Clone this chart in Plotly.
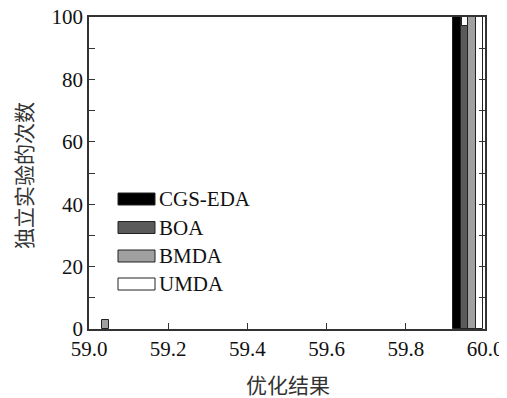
import plotly.graph_objects as go

# ---- data ----
algorithms = ["CGS-EDA", "BOA", "BMDA", "UMDA"]
colors = ["#000000", "#5a5a5a", "#a0a0a0", "#ffffff"]

cgs_x = [59.929]
cgs_y = [100]
boa_x = [59.949]
boa_y = [97]
bmda_x = [59.042, 59.967]
bmda_y = [3, 100]
umda_x = [59.985, 59.949]
umda_y = [100, 3]
umda_base = [0, 97]
umda_w = [0.018, 0.014]

x_ticks = [59.0, 59.2, 59.4, 59.6, 59.8, 60.0]
y_ticks = list(range(0, 101, 10))
y_ticktext = [str(v) if v % 20 == 0 else "" for v in y_ticks]

serif = "Liberation Serif, Times New Roman, serif"
cjk = "Noto Sans CJK SC"

fig = go.Figure()
line = dict(color="#222222", width=1)
fig.add_trace(go.Bar(x=cgs_x, y=cgs_y, width=0.02, marker=dict(color=colors[0], line=line), name=algorithms[0]))
fig.add_trace(go.Bar(x=boa_x, y=boa_y, width=0.02, marker=dict(color=colors[1], line=line), name=algorithms[1]))
fig.add_trace(go.Bar(x=bmda_x, y=bmda_y, width=0.018, marker=dict(color=colors[2], line=line), name=algorithms[2]))
fig.add_trace(go.Bar(x=umda_x, y=umda_y, base=umda_base, width=umda_w, marker=dict(color=colors[3], line=line), name=algorithms[3]))

# page offset (body margin) compensation
OFF = 8
W, H = 507 - OFF, 398 - OFF
# plot area in page pixels
PL, PR, PT, PB = 89, 485, 17, 329
L, T = PL - OFF, PT - OFF
R, B = W - (PR - OFF), H - (PB - OFF)
pw, ph = PR - PL, PB - PT


def px(xp):
    return (xp - PL) / pw


def py(yp):
    return (PB - yp) / ph


fig.update_layout(
    width=W, height=H,
    margin=dict(l=L, r=R, t=T, b=B, autoexpand=False),
    paper_bgcolor="white", plot_bgcolor="white",
    barmode="overlay", bargap=0, showlegend=False,
    font=dict(family=serif, size=21, color="#111111"),
)
fig.update_xaxes(
    range=[59.0, 60.0], tickvals=x_ticks, ticktext=[f"{v:.1f}" for v in x_ticks],
    ticks="inside", ticklen=6, tickcolor="#333333", showline=True, linecolor="#333333",
    linewidth=1.5, mirror=True, showgrid=False, zeroline=False, automargin=False,
    ticklabeloverflow="allow", tickfont=dict(family=serif, size=21),
)
fig.update_yaxes(
    range=[0, 100], tickvals=y_ticks, ticktext=y_ticktext,
    ticks="inside", ticklen=6, tickcolor="#333333", showline=True, linecolor="#333333",
    linewidth=1.5, mirror="ticks", showgrid=False, zeroline=False, automargin=False,
    ticklabeloverflow="allow", tickfont=dict(family=serif, size=21),
)

# axis titles
fig.add_annotation(text="优化结果", xref="paper", yref="paper",
                   x=px(288), y=py(384), xanchor="center", yanchor="middle", showarrow=False,
                   font=dict(family=cjk, size=21, color="#333333"))
fig.add_annotation(text="独立实验的次数", xref="paper", yref="paper", textangle=-90,
                   x=px(23), y=py(176), xanchor="center", yanchor="middle", showarrow=False,
                   font=dict(family=cjk, size=21, color="#333333"))

# legend (wide swatches)
row_centers = [199, 227.5, 256, 284]
for name, col, cy in zip(algorithms, colors, row_centers):
    fig.add_shape(type="rect", xref="paper", yref="paper",
                  x0=px(118), x1=px(155), y0=py(cy + 6), y1=py(cy - 6),
                  fillcolor=col, line=dict(color="#222222", width=1))
    fig.add_annotation(text=name, xref="paper", yref="paper",
                       x=px(157), y=py(cy), xanchor="left", yanchor="middle",
                       showarrow=False, font=dict(family=serif, size=21, color="#111111"))

fig.write_html("out.html")
